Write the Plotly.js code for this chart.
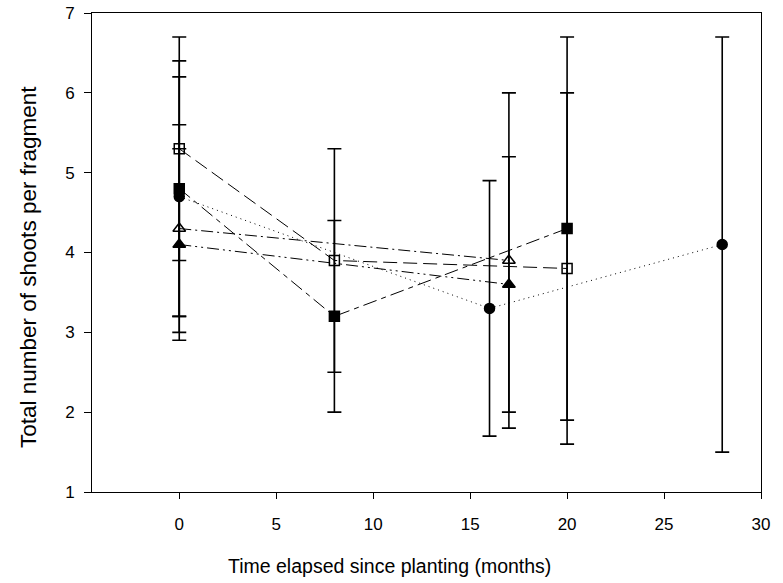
<!DOCTYPE html>
<html>
<head>
<meta charset="utf-8">
<script src="https://cdn.plot.ly/plotly-3.0.1.min.js"></script>
<style>html,body{margin:0;padding:0;background:#fff;}#chart{width:783px;height:583px;}</style>
</head>
<body>
<div id="chart"></div>
<script>
// Filled circle series (dotted)
var circleX = [0, 16, 28];
var circleY = [4.7, 3.3, 4.1];
var circleErr = [1.5, 1.6, 2.6];
// Open square series (long dash)
var openSqX = [0, 8, 20];
var openSqY = [5.3, 3.9, 3.8];
var openSqErr = [1.4, 1.4, 2.2];
// Filled square series (long dash - short dash)
var fillSqX = [0, 8, 20];
var fillSqY = [4.8, 3.2, 4.3];
var fillSqErr = [1.6, 1.2, 2.4];
// Open triangle series (dash-dot)
var openTriX = [0, 17];
var openTriY = [4.3, 3.9];
var openTriErr = [1.3, 2.1];
// Filled triangle series (dash-dot-dot)
var fillTriX = [0, 17];
var fillTriY = [4.1, 3.6];
var fillTriErr = [1.2, 1.6];

var xTicks = [0, 5, 10, 15, 20, 25, 30];
var yTicks = [1, 2, 3, 4, 5, 6, 7];
var xTitle = 'Time elapsed since planting (months)';
var yTitle = 'Total number of shoots per fragment';

function errBar(arr) {
  return {type: 'data', array: arr, visible: true, color: '#000', thickness: 1.6, width: 7};
}
function mk(x, y, err, symbol, dash, size) {
  return {
    x: x, y: y, type: 'scatter', mode: 'lines+markers',
    error_y: errBar(err),
    line: {color: '#000', width: 1, dash: dash},
    marker: {symbol: symbol, size: size, color: '#000', line: {color: '#000', width: 1.5}},
    showlegend: false, hoverinfo: 'skip'
  };
}

var traces = [
  mk(circleX, circleY, circleErr, 'circle', '1px,4px', 10),
  mk(openSqX, openSqY, openSqErr, 'square-open', '14px,6px', 10),
  mk(fillSqX, fillSqY, fillSqErr, 'square', '14px,5px,5px,5px', 10),
  mk(openTriX, openTriY, openTriErr, 'triangle-up-open', '12px,4px,2px,4px', 11),
  mk(fillTriX, fillTriY, fillTriErr, 'triangle-up', '12px,4px,2px,4px,2px,4px', 11)
];

var L = 92, R = 761, T = 13, B = 492;
function px2x(p) { return (p - L) / (R - L); }
function px2y(p) { return (B - p) / (B - T); }

var layout = {
  width: 783, height: 583,
  margin: {l: L, r: 783 - R, t: T, b: 583 - B},
  paper_bgcolor: '#fff', plot_bgcolor: '#fff',
  font: {family: 'Liberation Sans, Arial, sans-serif', color: '#000', size: 17},
  xaxis: {
    range: [-4.5, 30], tickvals: xTicks, ticktext: xTicks.map(String),
    showgrid: false, zeroline: false, showline: true, linecolor: '#000', linewidth: 1,
    mirror: true, ticks: 'outside', ticklen: 6, tickcolor: '#000', tickwidth: 1,
    tickfont: {size: 17}, ticklabelstandoff: 11
  },
  yaxis: {
    range: [1, 7], tickvals: yTicks, ticktext: yTicks.map(String),
    showgrid: false, zeroline: false, showline: true, linecolor: '#000', linewidth: 1,
    mirror: true, ticks: 'outside', ticklen: 7, tickcolor: '#000', tickwidth: 1,
    tickfont: {size: 17}, ticklabelstandoff: 6
  },
  annotations: [
    {text: xTitle, xref: 'paper', yref: 'paper', x: px2x(389), y: px2y(566),
     xanchor: 'center', yanchor: 'middle', showarrow: false, font: {size: 19.5}},
    {text: yTitle, xref: 'paper', yref: 'paper', x: px2x(28), y: px2y(267),
     xanchor: 'center', yanchor: 'middle', showarrow: false, textangle: -90, font: {size: 22.5}}
  ]
};

Plotly.newPlot('chart', traces, layout, {displayModeBar: false, staticPlot: true});
</script>
</body>
</html>
